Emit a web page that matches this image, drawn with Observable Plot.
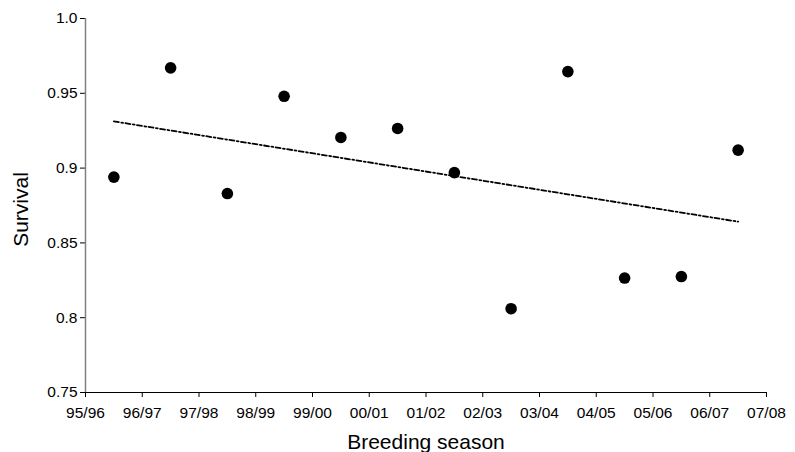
<!DOCTYPE html>
<html>
<head>
<meta charset="utf-8">
<script src="https://cdn.jsdelivr.net/npm/d3@7"></script>
<script src="https://cdn.jsdelivr.net/npm/@observablehq/plot@0.6"></script>
<style>
  html, body { margin: 0; padding: 0; background: #fff; }
  svg { font-family: "Liberation Sans", Arial, sans-serif; }
</style>
</head>
<body>
<div id="chart"></div>
<script>
// Season boundary tick labels (x axis)
const seasonTicks = ["95/96","96/97","97/98","98/99","99/00","00/01","01/02","02/03","03/04","04/05","05/06","06/07","07/08"];
// Survival per breeding season (plotted between season ticks)
const survival = [0.894, 0.967, 0.883, 0.948, 0.9205, 0.9265, 0.897, 0.806, 0.9645, 0.8265, 0.8275, 0.912];
// Y tick values and labels
const yTicks = [0.75, 0.8, 0.85, 0.9, 0.95, 1.0];
const yTickLabels = ["0.75", "0.8", "0.85", "0.9", "0.95", "1.0"];

const data = survival.map((v, i) => ({season: i + 0.5, survival: v}));

const chart = Plot.plot({
  width: 795,
  height: 452,
  marginTop: 18,
  marginRight: 29,
  marginBottom: 60,
  marginLeft: 85,
  style: {fontFamily: "Liberation Sans, Arial, sans-serif", background: "#fff"},
  x: {domain: [0, seasonTicks.length - 1]},
  y: {domain: [0.75, 1.0]},
  marks: [
    Plot.axisY({
      ticks: yTicks,
      tickFormat: (d) => yTickLabels[yTicks.indexOf(d)] ?? "",
      tickSize: 5,
      tickPadding: 3,
      fontSize: 15.5,
      label: null,
      stroke: "#000",
      color: "#000"
    }),
    Plot.axisX({
      ticks: d3.range(seasonTicks.length),
      tickFormat: (d) => seasonTicks[d],
      tickSize: 5,
      tickPadding: 9,
      fontSize: 15.5,
      label: null,
      stroke: "#000",
      color: "#000"
    }),
    Plot.ruleX([0], {stroke: "#808080", strokeWidth: 1.5}),
    Plot.ruleY([0.75], {stroke: "#000", strokeWidth: 1.2}),
    Plot.linearRegressionY(data, {
      x: "season", y: "survival", ci: 0,
      stroke: "#000", strokeWidth: 1.8, strokeDasharray: "5,2.5,1.8,2.4"
    }),
    Plot.dot(data, {x: "season", y: "survival", r: 5.8, fill: "#000", stroke: "none"}),
    Plot.text(["Breeding season"], {
      frameAnchor: "bottom", dy: 50, fontSize: 21, lineAnchor: "middle", textAnchor: "middle", fill: "#000"
    }),
    Plot.text(["Survival"], {
      frameAnchor: "left", dx: -64, dy: 4, rotate: -90, fontSize: 21, lineAnchor: "middle", textAnchor: "middle", fill: "#000"
    })
  ]
});
document.getElementById("chart").appendChild(chart);
</script>
</body>
</html>
